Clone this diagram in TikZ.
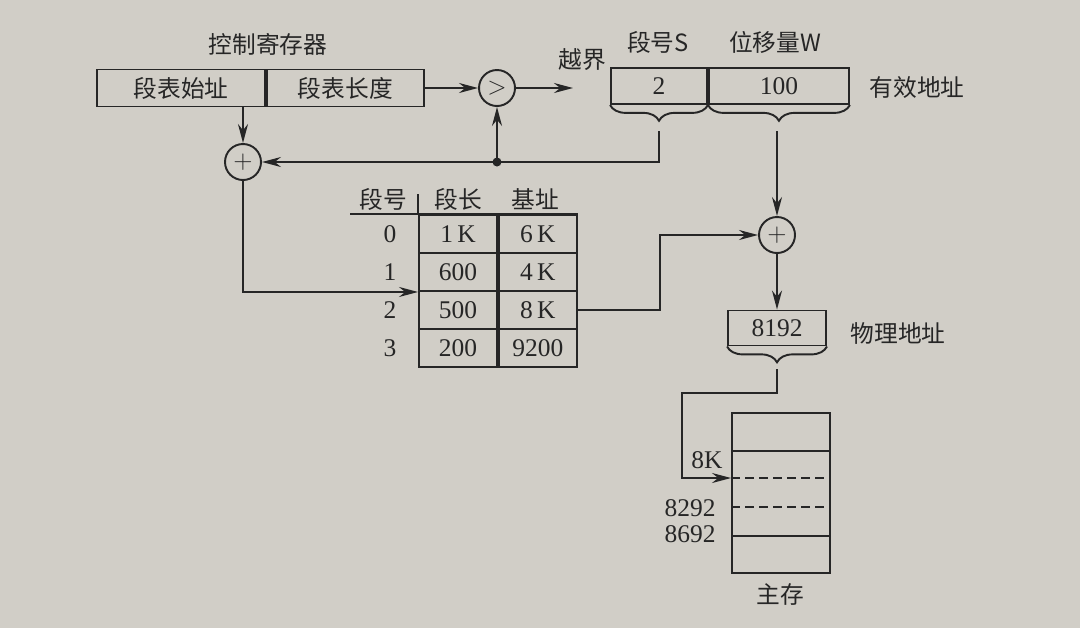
\documentclass[tikz,border=0pt]{standalone}
\usepackage{fontspec}
\usepackage{tikz}
\usetikzlibrary{
  arrows.meta,
  positioning,
  calc,
  decorations.pathreplacing
}
\setmainfont{Liberation Serif}
\newfontfamily\cjk{Noto Sans CJK SC}
\definecolor{segInk}{HTML}{262626}
\definecolor{segPaper}{HTML}{D1CEC7}
\tikzset{
  cjktext/.style={font=\cjk\fontsize{13.5}{16}\selectfont, text=segInk},
  numtext/.style={font=\fontsize{14.5}{17}\selectfont, text=segInk},
  reg/.style={
    draw=segInk, line width=1.1pt, minimum height=7.4mm, inner sep=0pt, cjktext
  },
  opc/.style={draw=segInk, circle, line width=1.1pt, minimum size=7.2mm, inner sep=0pt, text=segInk, font=\Large},
  tcell/.style={draw=segInk, line width=1.1pt, minimum width=15.6mm, minimum height=7.6mm, inner sep=0pt, numtext},
  memcol/.style={draw=segInk, line width=1.1pt, minimum width=19.6mm, minimum height=32mm, inner sep=0pt},
  wire/.style={line width=1.1pt, segInk},
  arr/.style={-{Stealth[length=3.8mm, width=2mm]}, line width=1.1pt, segInk},
  ubrace/.style={decorate, decoration={brace, mirror, amplitude=9pt}, line width=1.1pt, segInk}
}

\begin{document}
\begin{tikzpicture}[x=0.2mm, y=-0.2mm]
  \fill[segPaper] (0,0) rectangle (1080,628);
  \useasboundingbox (0,0) rectangle (1080,628);

  % control register
  \node[cjktext] (ctlname) at (268,44) {控制寄存器};
  \node[reg, minimum width=33.6mm] (base) at (181,88) {段表始址};
  \node[reg, minimum width=31.4mm, right=0pt of base] (tlen) {段表长度};

  \node[opc] (cmp) at (497,88) {$>$};
  \node[opc] (add1) at (243,162) {$+$};
  \node[opc] (add2) at (777,235) {$+$};

  % effective address
  \node[cjktext] (shead) at (658,42) {段号S};
  \node[cjktext] (whead) at (775,42) {位移量W};
  \node[reg, numtext, minimum width=19.2mm, minimum height=7.2mm] (segno) at (659,86) {2};
  \node[reg, numtext, minimum width=28mm, minimum height=7.2mm, right=0pt of segno] (offw) {100};
  \node[cjktext] (effname) at (917,87) {有效地址};
  \node[cjktext] (oob) at (582,60) {越界};
  \draw[ubrace] (segno.south west) -- (segno.south east);
  \draw[ubrace] (offw.south west) -- (offw.south east);
  \coordinate (segtip) at (659,131);
  \coordinate (offtip) at (777,131);
  \coordinate (oobend) at (573,88);
  \coordinate (jn) at (cmp |- add1);

  % segment table
  \node[cjktext] (hno) at (383,199) {段号};
  \node[cjktext] (hlen) at (458,199) {段长};
  \node[cjktext] (hbase) at (535,199) {基址};
  \foreach \ln/\bs [count=\i from 0] in {1\,K/6\,K, 600/4\,K, 500/8\,K, 200/9200} {
    \node[tcell] (l\i) at (458,234+38*\i) {\ln};
    \node[tcell, right=0pt of l\i] (b\i) {\bs};
    \node[numtext] (n\i) at (390,234+38*\i) {\i};
  }
  \draw[wire] (l0.north west -| 350,0) -- (b0.north east);
  \draw[wire] (l0.north west) -- ++(0,-20);

  % physical address and memory
  \node[reg, numtext, minimum width=19.6mm, minimum height=7mm] (phys) at (777,328) {8192};
  \node[cjktext] (physname) at (898,333) {物理地址};
  \draw[ubrace] (phys.south west) -- (phys.south east);
  \coordinate (phystip) at (777,369);
  \coordinate (bend) at (682,393);
  \coordinate (rise) at (660,0);

  \node[memcol] (mem) at (781,493) {};
  \draw[wire] (mem.west |- 0,451) -- (mem.east |- 0,451);
  \draw[wire] (mem.west |- 0,536) -- (mem.east |- 0,536);
  \draw[wire, dash pattern=on 5pt off 3pt] (mem.west |- 0,478) -- (mem.east |- 0,478);
  \draw[wire, dash pattern=on 5pt off 3pt] (mem.west |- 0,507) -- (mem.east |- 0,507);
  \coordinate (m8k) at (mem.west |- 0,478);
  \node[numtext] (lbl8k) at (707,460) {8K};
  \node[numtext] (lbl8292) at (690,508) {8292};
  \node[numtext] (lbl8692) at (690,534) {8692};
  \node[cjktext] (memname) at (780,594) {主存};

  % connectors
  \draw[arr] (tlen) -- (cmp);
  \draw[arr] (cmp) -- (oobend);
  \draw[arr] (add1 |- base.south) -- (add1);
  \draw[arr] (segtip) |- (add1);
  \fill[segInk] (jn) circle (0.9mm);
  \draw[arr] (jn) -- (cmp);
  \draw[arr] (add1) |- (l1.south west);
  \draw[arr] (offtip) -- (add2);
  \draw[arr] (b2.east) -- (b2.east -| rise) |- (add2);
  \draw[arr] (add2) -- (phys);
  \draw[arr] (phystip) |- (bend) |- (m8k);
\end{tikzpicture}
\end{document}
